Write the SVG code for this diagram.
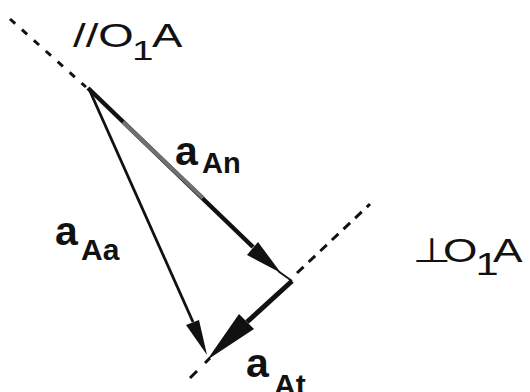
<svg xmlns="http://www.w3.org/2000/svg" width="530" height="392" viewBox="0 0 530 392">
<style>
.t{font-family:"Liberation Sans",Arial,Helvetica,sans-serif;fill:#111}
.b{font-weight:bold}
.sym{font-family:"DejaVu Sans",sans-serif}
.dash{stroke:#111;stroke-width:3;fill:none}
.vec{stroke:#111;fill:none}
.head{fill:#111}
</style>
<rect width="530" height="392" fill="#fff"/>
<g id="guides">
<path class="dash" d="M10,19 L86,87" stroke-dasharray="7 9"/>
<path class="dash" d="M297,273 L370,204" stroke-dasharray="9 7"/>
<path class="dash" d="M210,358 L205,363 M197,371 L190,378"/>
</g>
<g id="connectors">
<g id="aAn-vec">
<path class="vec" stroke-width="4.5" d="M88,88 L253,247"/>
<path stroke="#707070" stroke-width="4" fill="none" d="M123,122 L203,198"/>
<path class="vec" stroke-width="2" d="M278,271 L292,281"/>
<polygon class="head" points="281,273 247,255 258,242"/>
</g>
<g id="aAt-vec">
<path class="vec" stroke-width="5" d="M292,281 L247,322"/>
<polygon class="head" points="207,360 239,314 254,329"/>
</g>
<g id="aAa-vec">
<path class="vec" stroke-width="2.8" d="M89,89 L193,322"/>
<polygon class="head" points="207,355 186,325 199,320"/>
</g>
</g>
<g id="label-parallel">
<text class="t" font-size="33" transform="translate(73,47) scale(1.38,1)"><tspan x="0" y="0">//O</tspan><tspan x="42.8" y="13" font-size="28">1</tspan><tspan x="57.2" y="0">A</tspan></text>
</g>
<g id="label-perp">
<text class="t" font-size="34" transform="translate(417,262) scale(1.3,1)"><tspan class="sym" x="-3.4" y="0">⊥</tspan><tspan x="20" y="0">O</tspan><tspan x="45" y="13" font-size="32">1</tspan><tspan x="58.5" y="0">A</tspan></text>
</g>
<g id="label-aAn">
<text class="t b"><tspan x="175" y="165" font-size="41">a</tspan><tspan x="202" y="173" font-size="29">An</tspan></text>
</g>
<g id="label-aAa">
<text class="t b"><tspan x="55" y="245" font-size="41">a</tspan><tspan x="81" y="260" font-size="30">Aa</tspan></text>
</g>
<g id="label-aAt">
<text class="t b"><tspan x="246" y="377" font-size="41">a</tspan><tspan x="274" y="395" font-size="30">At</tspan></text>
</g>
</svg>
